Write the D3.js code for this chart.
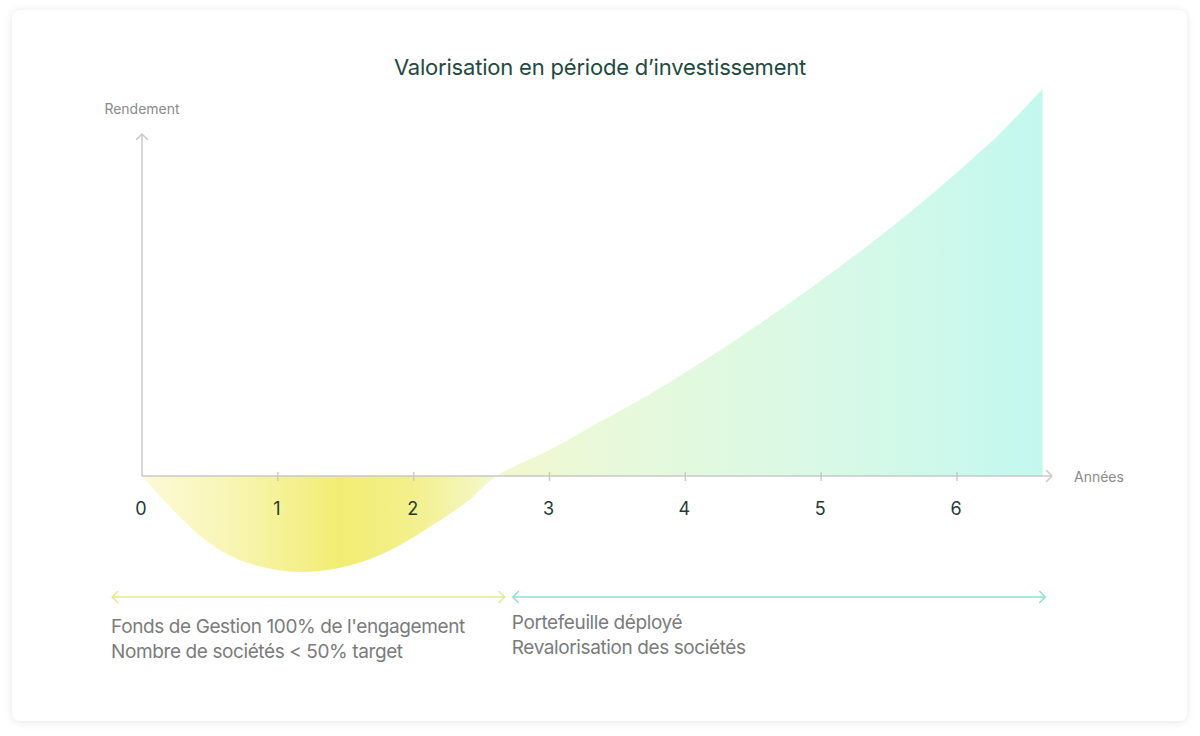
<!DOCTYPE html>
<html lang="fr">
<head>
  <meta charset="UTF-8">
  <script src="https://d3js.org/d3.v7.min.js"></script>
  <title>Valorisation en période d’investissement</title>
  <style>
    html, body { margin: 0; padding: 0; background: #ffffff; }
    body { width: 1200px; height: 736px; overflow: hidden; font-family: Inter, "Noto Sans", sans-serif; }
    .card {
      position: absolute; left: 12px; top: 10px; width: 1175px; height: 711px;
      background: #fff; border-radius: 8px;
      box-shadow: 0 1px 8px rgba(0,0,0,0.10);
    }
    svg { position: absolute; left: 0; top: 0; }
  </style>
</head>
<body>
  <div class="card"></div>
  <svg width="1200" height="736"></svg>

  <script>
    // valeurs (années, rendement en unités arbitraires)
    const years = [0, 0.18, 0.43, 0.67, 0.92, 1.16, 1.41, 1.66, 1.9, 2.14, 2.39, 2.61, 3.0, 3.37, 3.74, 4.11, 4.48, 4.84, 5.34, 5.71, 6.07, 6.32, 6.63];
    const rendement = [0, -2.7, -6.0, -8.1, -9.2, -9.6, -9.3, -8.4, -6.9, -4.9, -2.6, 0, 2.6, 5.4, 8.2, 11.3, 14.6, 18.0, 23.0, 27.0, 31.2, 34.3, 38.7];
    const tickYears = [0, 1, 2, 3, 4, 5, 6];
    const phaseStart = [-0.22, 2.73];
    const phaseEnd = [2.67, 6.65];
    const phaseLines = [
      ["Fonds de Gestion 100% de l'engagement", "Nombre de sociétés < 50% target"],
      ["Portefeuille déployé", "Revalorisation des sociétés"]
    ];
    const phaseColors = ["#e4e98a", "#8fe0cb"];

    const svg = d3.select("svg");
    const x = d3.scaleLinear().domain([0, 6]).range([142, 957]);
    const y = d3.scaleLinear().domain([-10, 40]).range([576, 76]);
    const axisColor = "#c9c9c9";

    // gradient jaune -> vert menthe
    const defs = svg.append("defs");
    const grad = defs.append("linearGradient")
      .attr("id", "fillGrad")
      .attr("gradientUnits", "userSpaceOnUse")
      .attr("x1", x(0)).attr("x2", x(6.63)).attr("y1", 0).attr("y2", 0);
    [[0, "#fcfad8"], [0.1, "#f8f5b4"], [0.22, "#f2ed72"], [0.3, "#f3f08c"], [0.39, "#f4f8cc"],
     [0.5, "#e9f9d9"], [0.75, "#d9f9e6"], [1, "#c3f8ef"]].forEach(([o, c]) => {
      grad.append("stop").attr("offset", o).attr("stop-color", c);
    });

    const pts = years.map((d, i) => [d, rendement[i]]);
    const area = d3.area()
      .x(d => x(d[0]))
      .y0(y(0))
      .y1(d => y(d[1]))
      .curve(d3.curveCatmullRom.alpha(0.5));

    svg.append("path")
      .datum(pts)
      .attr("d", area)
      .attr("fill", "url(#fillGrad)");

    // petite flèche ouverte
    function chevron(g, px, py, dir, color) {
      const s = 5.5;
      let d;
      if (dir === "right") d = `M${px - s},${py - s}L${px},${py}L${px - s},${py + s}`;
      if (dir === "left") d = `M${px + s},${py - s}L${px},${py}L${px + s},${py + s}`;
      if (dir === "up") d = `M${px - s},${py + s}L${px},${py}L${px + s},${py + s}`;
      g.append("path").attr("d", d).attr("fill", "none")
        .attr("stroke", color).attr("stroke-width", 1.5).attr("stroke-linecap", "round");
    }

    // axes
    const axes = svg.append("g");
    axes.append("line")
      .attr("x1", x(0)).attr("x2", 1052).attr("y1", y(0)).attr("y2", y(0))
      .attr("stroke", axisColor).attr("stroke-width", 1.5);
    chevron(axes, 1052, y(0), "right", axisColor);
    axes.append("line")
      .attr("x1", x(0)).attr("x2", x(0)).attr("y1", y(0)).attr("y2", 134)
      .attr("stroke", axisColor).attr("stroke-width", 1.5);
    chevron(axes, x(0), 134, "up", axisColor);

    axes.selectAll(".tick")
      .data(tickYears.slice(1))
      .join("line")
      .attr("x1", d => x(d)).attr("x2", d => x(d))
      .attr("y1", y(0) - 4).attr("y2", y(0) + 5)
      .attr("stroke", axisColor).attr("stroke-width", 1.5);

    axes.selectAll(".tickLabel")
      .data(tickYears)
      .join("text")
      .attr("x", d => x(d) - 1)
      .attr("y", 515)
      .attr("text-anchor", "middle")
      .attr("font-size", 18)
      .attr("fill", "#1e3a34")
      .text(d => d);

    svg.append("text")
      .attr("x", 142).attr("y", 114)
      .attr("text-anchor", "middle")
      .attr("font-size", 14).attr("fill", "#8a8a8a")
      .text("Rendement");
    svg.append("text")
      .attr("x", 1074).attr("y", 482)
      .attr("font-size", 14).attr("fill", "#8a8a8a")
      .text("Années");

    // titre
    svg.append("text")
      .attr("x", 600).attr("y", 75)
      .attr("text-anchor", "middle")
      .attr("font-size", 22).attr("fill", "#1f4a40")
      .attr("letter-spacing", -0.2)
      .text("Valorisation en période d’investissement");

    // phases
    const phases = svg.append("g");
    phaseStart.forEach((s, i) => {
      const x1 = x(s), x2 = x(phaseEnd[i]), py = 597;
      phases.append("line")
        .attr("x1", x1).attr("x2", x2).attr("y1", py).attr("y2", py)
        .attr("stroke", phaseColors[i]).attr("stroke-width", 1.5);
      chevron(phases, x1, py, "left", phaseColors[i]);
      chevron(phases, x2, py, "right", phaseColors[i]);
      const t = phases.append("text")
        .attr("x", x1 - 1)
        .attr("y", i === 0 ? 633 : 629)
        .attr("font-size", 19).attr("fill", "#7b7b7b")
        .attr("letter-spacing", -0.4);
      phaseLines[i].forEach((line, j) => {
        t.append("tspan").attr("x", x1 - 1).attr("dy", j === 0 ? 0 : 24.5).text(line);
      });
    });
  </script>
</body>
</html>
